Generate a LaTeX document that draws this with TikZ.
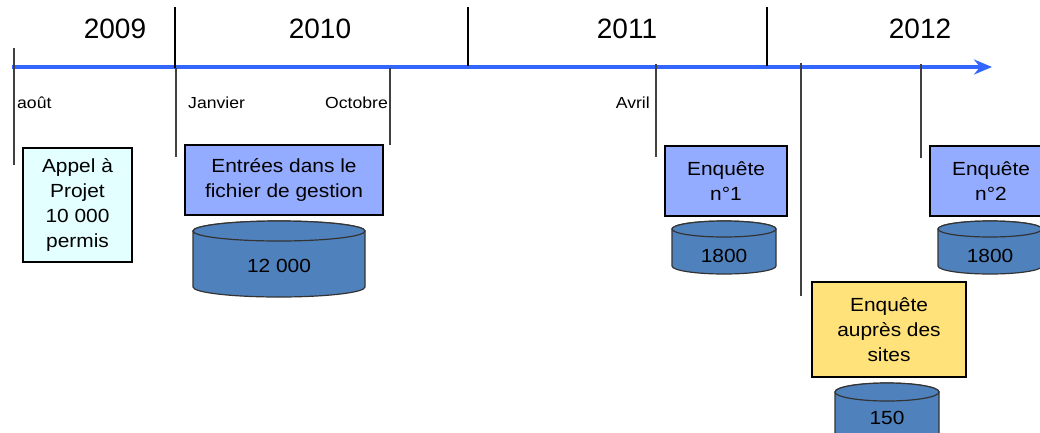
\documentclass[tikz,border=0pt]{standalone}
\usepackage{fontspec}
\setmainfont{Liberation Sans}[FakeStretch=1.1]
\newfontfamily\yearfont{Liberation Sans}
\usetikzlibrary{arrows.meta}
\definecolor{axisblue}{RGB}{51,102,255}
\definecolor{boxblue}{RGB}{148,172,255}
\definecolor{boxcyan}{RGB}{228,255,255}
\definecolor{boxyellow}{RGB}{255,226,122}
\definecolor{cylblue}{RGB}{79,129,189}
\newcommand\cylshape[5]{%
  \filldraw[cylbody] (#1-#4,-#2) -- (#1-#4,-#3)
    arc[start angle=180,end angle=360,x radius=#4,y radius=#5]
    -- (#1+#4,-#2)
    arc[start angle=0,end angle=180,x radius=#4,y radius=#5] -- cycle;
  \draw[cylbody] (#1,-#2) ellipse[x radius=#4,y radius=#5];}
\begin{document}
\begin{tikzpicture}[x=1pt,y=1pt,
  yearlbl/.style={font=\yearfont\fontsize{28}{30}\selectfont, inner sep=0},
  monthlbl/.style={font=\fontsize{16}{18}\selectfont, inner sep=0},
  evbox/.style={draw=black, line width=2pt, anchor=north west, align=center, inner sep=0, font=\fontsize{19}{25}\selectfont},
  cyllbl/.style={font=\fontsize{19}{22}\selectfont, inner sep=0},
  cylbody/.style={fill=cylblue, draw=black!80, line width=1.2pt},
  yearsep/.style={line width=2.2pt},
  monthline/.style={line width=1.3pt, draw=black!75},
]
\useasboundingbox (0,0) rectangle (1040,-432);

% axis
\coordinate (axs) at (12,-67);
\coordinate (axe) at (992,-67);
\draw[axisblue, line width=3.2pt, -{Stealth[length=18pt,width=15pt,inset=6pt]}] (axs) -- (axe);

% year separators
\coordinate (y1t) at (175,-7);  \coordinate (y1b) at (175,-68);
\coordinate (y2t) at (468,-7);  \coordinate (y2b) at (468,-66);
\coordinate (y3t) at (767,-7);  \coordinate (y3b) at (767,-66);
\draw[yearsep] (y1t) -- (y1b);
\draw[yearsep] (y2t) -- (y2b);
\draw[yearsep] (y3t) -- (y3b);

% month lines
\coordinate (m1t) at (14,-48);  \coordinate (m1b) at (14,-165);
\coordinate (m2t) at (176,-68); \coordinate (m2b) at (176,-157);
\coordinate (m3t) at (390,-68); \coordinate (m3b) at (390,-145);
\coordinate (m4t) at (656,-64); \coordinate (m4b) at (656,-157);
\coordinate (m5t) at (801,-63); \coordinate (m5b) at (801,-296);
\coordinate (m6t) at (921,-64); \coordinate (m6b) at (921,-158);
\draw[monthline] (m1t) -- (m1b);
\draw[monthline] (m2t) -- (m2b);
\draw[monthline] (m3t) -- (m3b);
\draw[monthline] (m4t) -- (m4b);
\draw[monthline] (m5t) -- (m5b);
\draw[monthline] (m6t) -- (m6b);

% year labels
\node[yearlbl] (y2009) at (115,-29) {2009};
\node[yearlbl] (y2010) at (320,-29) {2010};
\node[yearlbl] (y2011) at (627,-29) {2011};
\node[yearlbl] (y2012) at (920,-29) {2012};

% month labels
\node[monthlbl, anchor=west] (aout) at (17,-103) {août};
\node[monthlbl, anchor=west] (janv) at (188,-103) {Janvier};
\node[monthlbl, anchor=east] (oct) at (388,-103) {Octobre};
\node[monthlbl, anchor=east] (avril) at (650,-103) {Avril};

% boxes
\node[evbox, fill=boxcyan, minimum width=109pt, minimum height=114pt] (appel) at (22,-147) {Appel à\\Projet\\10 000\\permis};
\node[evbox, fill=boxblue, minimum width=198pt, minimum height=70pt] (entrees) at (184,-144) {Entrées dans le\\fichier de gestion};
\node[evbox, fill=boxblue, minimum width=122pt, minimum height=70pt] (enq1) at (664,-145) {Enquête\\n°1};
\node[evbox, fill=boxblue, minimum width=122pt, minimum height=70pt] (enq2) at (929,-145) {Enquête\\n°2};
\node[evbox, fill=boxyellow, minimum width=154pt, minimum height=95pt] (sites) at (811,-281) {Enquête\\auprès des\\sites};

% cylinders
\cylshape{279}{231}{287}{86}{10}
\node[cyllbl] (c12000) at (279,-266) {12 000};
\cylshape{724}{229}{266}{52}{8}
\node[cyllbl] (c1800a) at (724,-256) {1800};
\cylshape{990}{229}{266}{52}{8}
\node[cyllbl] (c1800b) at (990,-256) {1800};
\cylshape{887}{392}{445}{52}{9}
\node[cyllbl] (c150) at (887,-418) {150};
\end{tikzpicture}
\end{document}
